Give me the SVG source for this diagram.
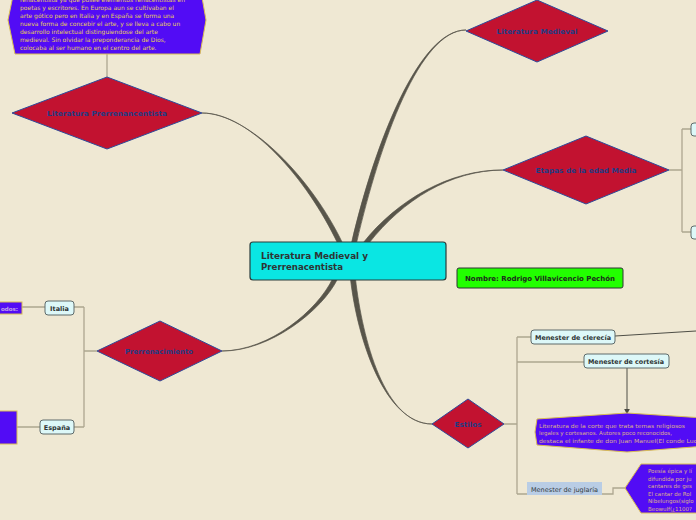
<svg xmlns="http://www.w3.org/2000/svg" width="696" height="520" viewBox="0 0 696 520">
<style>
text{font-family:"DejaVu Sans","Verdana",sans-serif}
.dia{fill:#C21230;stroke:#2E4A9A;stroke-width:1}
.dl{font-size:7px;font-weight:bold;fill:#1F3C84;text-anchor:middle}
.pur{fill:#520CF5;stroke:#D9BC55;stroke-width:1}
.pt{font-size:6px;fill:#E8CF55}
.pt2{font-size:5.5px;fill:#DDB08C}
.box{fill:#DDF8F8;stroke:#5E6B6B;stroke-width:1}
.bl{font-size:6.5px;font-weight:bold;fill:#2E3434}
.br{fill:none;stroke:#ADA690;stroke-width:1.3}
.main{fill:#58554A;stroke:#58554A;stroke-width:0.7}
</style>
<defs>
<marker id="arr" viewBox="0 0 10 10" refX="9" refY="5" markerWidth="6" markerHeight="6" orient="auto" markerUnits="userSpaceOnUse">
<path d="M0,0 L10,5 L0,10 Z" fill="#4A4A42"/>
</marker>
</defs>
<rect width="696" height="520" fill="#EFE8D3"/>

<g id="connectors">
<path class="main" d="M337.5,243 C307.5,180 250,112.5 202,113 C250,113.5 312.5,180 342.5,243 Z"/>
<path class="main" d="M351.5,243 C375.5,140 420,29.5 466,30 C420,30.5 380.5,140 356.5,243 Z"/>
<path class="main" d="M363,243 C397,200 450,169.5 503,170 C450,170.5 403,200 369,243 Z"/>
<path class="main" d="M332.5,279 C317.5,310 270,350.5 222,351 C270,351.5 322.5,310 337.5,279 Z"/>
<path class="main" d="M350.5,279 C357.5,340 385,423.5 432,424 C385,424.5 362.5,340 355.5,279 Z"/>
<path class="br" d="M107,54 V77"/>
<path class="br" d="M669,170 H682 M682,129 V232 M682,129 H691 M682,232 H691"/>
<path class="br" d="M97,351 H84 M84,307 V427 M84,307 H74 M84,427 H74"/>
<path class="br" d="M45,307 H22 M40,427 H17"/>
<path class="br" d="M504,424 H517 M517,337 V494 M517,337 H531 M517,362 H584 M517,494 H613 V488 H625"/>
<path d="M615,336 L696,331" fill="none" stroke="#4E4E46" stroke-width="1"/>
<path d="M627,368 V414" fill="none" stroke="#4E4E46" stroke-width="1" marker-end="url(#arr)"/>
</g>

<g id="nota-prerrenacentista">
<polygon class="pur" points="15,-14 200,-14 206,20 200,54 15,54 8,20"/>
<text class="pt" x="20" y="2">renacentista ya que posee elementos renacentistas en</text>
<text class="pt" x="20" y="10">poetas y escritores. En Europa aun se cultivaban el</text>
<text class="pt" x="20" y="18">arte gótico pero en Italia y en España se forma una</text>
<text class="pt" x="20" y="26">nueva forma de concebir el arte, y se lleva a cabo un</text>
<text class="pt" x="20" y="34">desarrollo intelectual distinguiendose del arte</text>
<text class="pt" x="20" y="42">medieval. Sin olvidar la preponderancia de Dios,</text>
<text class="pt" x="20" y="50">colocaba al ser humano en el centro del arte.</text>
</g>

<g id="lit-prerrenacentista">
<polygon class="dia" points="12,113 107,77 202,113 107,149"/>
<text class="dl" x="107" y="116" textLength="120" lengthAdjust="spacingAndGlyphs">Literatura Prerrenancentista</text>
</g>

<g id="lit-medieval">
<polygon class="dia" points="466,31 537,0 608,31 537,62"/>
<text class="dl" x="537" y="34" textLength="81" lengthAdjust="spacingAndGlyphs">Literatura Medieval</text>
</g>

<g id="etapas">
<polygon class="dia" points="503,170 586,136 669,170 586,204"/>
<text class="dl" x="586" y="173" textLength="101" lengthAdjust="spacingAndGlyphs">Etapas de la edad Media</text>
</g>
<g id="etapa1"><rect class="box" x="691" y="123" width="20" height="13" rx="3"/></g>
<g id="etapa2"><rect class="box" x="691" y="226" width="20" height="13" rx="3"/></g>

<g id="central">
<rect x="250" y="242" width="196" height="38" rx="3" fill="#0AE6E3" stroke="#2A3C3C" stroke-width="1.2"/>
<text x="261" y="259" font-size="8.5" font-weight="bold" fill="#2E3434" textLength="107" lengthAdjust="spacingAndGlyphs">Literatura Medieval y</text>
<text x="261" y="270" font-size="8.5" font-weight="bold" fill="#2E3434" textLength="82" lengthAdjust="spacingAndGlyphs">Prerrenacentista</text>
</g>

<g id="nombre">
<rect x="457" y="268" width="166" height="20" rx="2" fill="#22FF00" stroke="#2E3434" stroke-width="1"/>
<text x="540" y="281" font-size="7" font-weight="bold" fill="#1E2A1E" text-anchor="middle" textLength="150" lengthAdjust="spacingAndGlyphs">Nombre: Rodrigo Villavicencio Pechón</text>
</g>

<g id="prerrenacimiento">
<polygon class="dia" points="97,351 160,321 222,351 160,381"/>
<text class="dl" x="159" y="354" textLength="68" lengthAdjust="spacingAndGlyphs">Prerrenacimiento</text>
</g>

<g id="italia">
<rect class="box" x="45" y="301" width="29" height="14" rx="3"/>
<text class="bl" x="59.5" y="311" text-anchor="middle">Italia</text>
</g>
<g id="periodos">
<rect x="-2" y="302" width="24" height="12" fill="#520CF5" stroke="#D9BC55" stroke-width="1"/>
<text x="1" y="310.5" font-size="5.5" font-weight="bold" fill="#C8A8E8">odos:</text>
</g>
<g id="espana">
<rect class="box" x="40" y="420" width="34" height="14" rx="3"/>
<text class="bl" x="57" y="430" text-anchor="middle">España</text>
</g>
<g id="espana-nota">
<rect x="-2" y="411" width="19" height="33" fill="#520CF5" stroke="#D9BC55" stroke-width="1"/>
</g>

<g id="estilos">
<polygon class="dia" points="432,424 468,399 504,424 468,448"/>
<text class="dl" x="468" y="427" font-size="7.5" textLength="27" lengthAdjust="spacingAndGlyphs">Estilos</text>
</g>

<g id="clerecia">
<rect class="box" x="531" y="330" width="84" height="14" rx="3"/>
<text class="bl" x="573" y="340" text-anchor="middle" textLength="76" lengthAdjust="spacingAndGlyphs">Menester de clerecía</text>
</g>

<g id="cortesia">
<rect class="box" x="584" y="354" width="85" height="14" rx="3"/>
<text class="bl" x="626" y="364" text-anchor="middle" textLength="76" lengthAdjust="spacingAndGlyphs">Menester de cortesía</text>
</g>

<g id="corte-nota">
<polygon class="pur" points="537,419 627,413 720,419 720,445 627,452 537,445 535,432"/>
<text class="pt2" x="539" y="427.5" textLength="146" lengthAdjust="spacingAndGlyphs">Literatura  de la corte que trata temas religiosos</text>
<text class="pt2" x="539" y="435" textLength="133" lengthAdjust="spacingAndGlyphs">legales y cortesanos. Autores poco reconocidos,</text>
<text class="pt2" x="539" y="442.5" textLength="158" lengthAdjust="spacingAndGlyphs">destaca el infante de don Juan Manuel(El conde Luc</text>
</g>

<g id="juglaria">
<rect x="527" y="482" width="75" height="13" fill="#B9CDE5"/>
<text x="564.5" y="491.5" font-size="6.5" fill="#333A40" text-anchor="middle" textLength="67" lengthAdjust="spacingAndGlyphs">Menester de juglaría</text>
</g>

<g id="juglaria-nota">
<polygon class="pur" points="625,488 641,464 720,464 720,513 641,513"/>
<text class="pt2" x="648" y="473">Poesía épica y lí</text>
<text class="pt2" x="648" y="480.5">difundida por ju</text>
<text class="pt2" x="648" y="488">cantares de ges</text>
<text class="pt2" x="648" y="495.5">El cantar de Rol</text>
<text class="pt2" x="648" y="503">Nibelungos(siglo</text>
<text class="pt2" x="648" y="510.5">Beowulf(¿1100?</text>
</g>
</svg>
